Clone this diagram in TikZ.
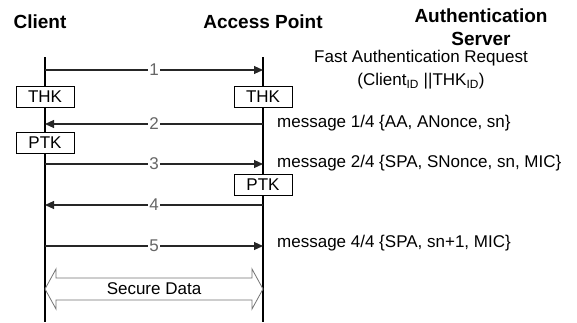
\documentclass[tikz,border=0pt]{standalone}
\usepackage{fontspec}
\setmainfont{Liberation Sans}
\usetikzlibrary{arrows.meta}
\tikzstyle{lifeline} = [line width=1.6pt, black]
\tikzstyle{msg} = [line width=1.1pt, black!85, -{Triangle[length=9pt,width=8pt]}]
\tikzstyle{num} = [midway, fill=white, inner sep=1pt, text=black!60]
\tikzstyle{keybox} = [rectangle, draw=black, line width=0.8pt, fill=white, minimum width=58pt, minimum height=21pt, inner sep=0pt]
\tikzstyle{title} = [font=\fontsize{19}{23}\selectfont\bfseries, align=center]
\tikzstyle{txt} = [font=\fontsize{17}{23}\selectfont, inner sep=0pt]

\begin{document}
\begin{tikzpicture}[x=1pt, y=-1pt, every node/.append style={font=\fontsize{17}{23}\selectfont}]
      \useasboundingbox (0,0) rectangle (577,322);
      % headers
      \node [title] (client) at (40,22) {Client};
      \node [title] (ap) at (263,22) {Access Point};
      \node [title] (as) at (481,27) {Authentication\\Server};

      % lifelines
      \coordinate (cltop) at (45,57);
      \coordinate (clbot) at (45,322);
      \coordinate (aptop) at (263,57);
      \coordinate (apbot) at (263,322);
      \draw [lifeline] (cltop) -- (clbot);
      \draw [lifeline] (aptop) -- (apbot);

      \foreach \i/\y in {1/70,2/124,3/164,4/205,5/246} {
        \coordinate (c\i) at (45,\y);
        \coordinate (a\i) at (263,\y);
      }

      % messages
      \draw [msg] (c1) -- (a1) node [num] {1};
      \draw [msg] (a2) -- (c2) node [num] {2};
      \draw [msg] (c3) -- (a3) node [num] {3};
      \draw [msg] (a4) -- (c4) node [num] {4};
      \draw [msg] (c5) -- (a5) node [num] {5};

      % keys
      \node [keybox] (thkc) at (45,96.5) {THK};
      \node [keybox] (thka) at (263,96.5) {THK};
      \node [keybox] (ptkc) at (45,142.5) {PTK};
      \node [keybox] (ptka) at (263,184.5) {PTK};

      % message texts
      \node [txt, align=center] (req) at (421,70) {Fast Authentication Request\\(Client\textsubscript{ID} ||THK\textsubscript{ID})};
      \node [txt, anchor=west] (m1) at (277,123) {message 1/4 \{AA, ANonce, sn\}};
      \node [txt, anchor=west] (m2) at (277,163) {message 2/4 \{SPA, SNonce, sn, MIC\}};
      \node [txt, anchor=west] (m4) at (277,243) {message 4/4 \{SPA, sn+1, MIC\}};

      % secure data
      \draw [black!55, line width=0.8pt, fill=white]
        (45,289) -- (56,269) -- (56,278) -- (252,278) -- (252,269) -- (263,289)
        -- (252,309) -- (252,300) -- (56,300) -- (56,309) -- cycle;
      \node [txt] (sec) at (154,289) {Secure Data};
\end{tikzpicture}
\end{document}
